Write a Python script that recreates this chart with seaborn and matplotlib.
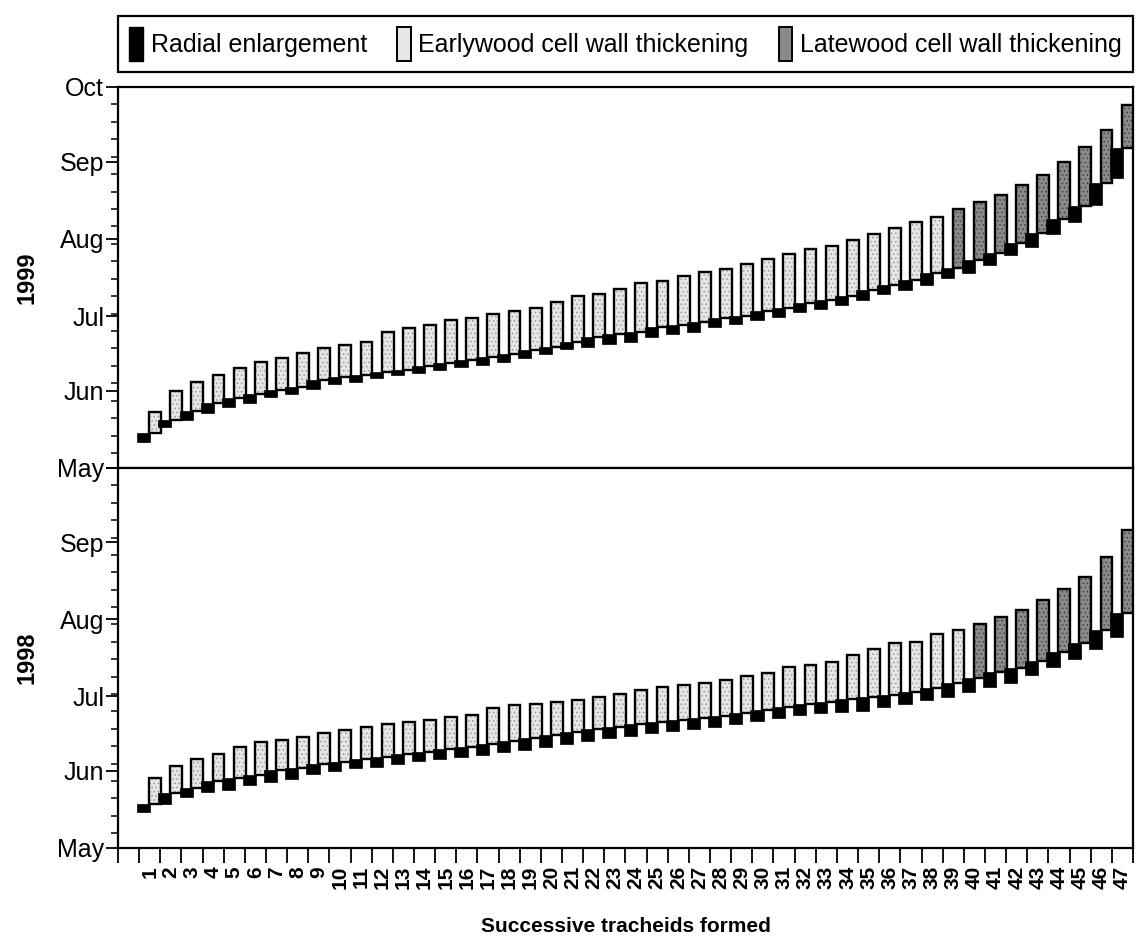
import numpy as np
import pandas as pd
import matplotlib
matplotlib.use("Agg")
import matplotlib.pyplot as plt
from matplotlib.patches import Patch
import seaborn as sns

tracheids = list(range(1, 48))

# day of year
enl_start_1999 = [131.4, 137.5, 140.3, 143.1, 145.5, 147.1, 149.5, 150.7, 152.7, 154.7,
                  155.5, 157.1, 158.3, 159.2, 160.4, 161.6, 162.4, 163.6, 165.2, 166.8,
                  168.8, 169.6, 170.8, 171.6, 173.6, 174.8, 175.6, 177.6, 178.8, 180.4,
                  181.6, 183.7, 184.9, 186.5, 188.5, 190.9, 192.5, 194.5, 197.3, 199.3,
                  202.5, 206.5, 209.8, 215.0, 219.8, 226.6, 237.5]
enl_end_1999 = [135.1, 140.3, 143.9, 147.1, 149.1, 150.7, 152.3, 153.5, 156.3, 157.5,
                158.3, 159.6, 160.4, 162.0, 163.2, 164.4, 165.6, 166.8, 168.4, 169.6,
                171.6, 173.6, 174.8, 175.6, 177.6, 178.4, 179.6, 181.2, 182.0, 184.1,
                185.3, 187.3, 188.5, 190.1, 192.5, 194.5, 196.5, 199.3, 201.3, 204.5,
                207.3, 211.4, 215.4, 221.0, 226.2, 235.5, 249.5]
thick_end_1999 = [143.5, 151.9, 155.5, 158.3, 161.2, 163.6, 165.2, 167.2, 169.2, 170.4,
                  171.6, 175.6, 177.2, 178.4, 180.4, 181.2, 182.8, 184.1, 185.3, 187.7,
                  190.1, 190.9, 192.9, 195.3, 196.1, 198.1, 199.7, 200.9, 202.9, 204.9,
                  206.9, 209.0, 210.2, 212.6, 215.0, 217.4, 219.8, 221.8, 225.0, 227.8,
                  230.6, 234.7, 238.7, 243.9, 249.9, 256.7, 266.8]
first_late_1999 = 39

enl_start_1998 = [135.5, 138.7, 141.6, 143.6, 144.4, 146.4, 147.6, 148.8, 150.8, 152.0,
                  153.3, 153.7, 154.9, 156.1, 156.9, 157.7, 158.5, 159.7, 160.5, 161.7,
                  162.9, 164.1, 165.4, 166.2, 167.4, 168.2, 169.0, 169.8, 171.0, 172.2,
                  173.4, 174.6, 175.4, 175.8, 176.2, 177.9, 179.1, 180.7, 181.9, 183.9,
                  185.9, 187.5, 190.8, 194.0, 197.2, 201.2, 206.1]
enl_end_1998 = [138.7, 143.2, 145.2, 148.0, 149.2, 150.4, 152.5, 153.3, 154.9, 155.7,
                156.9, 157.7, 158.9, 159.7, 160.9, 161.7, 162.9, 164.1, 165.4, 166.6,
                167.8, 169.0, 169.8, 171.0, 171.8, 172.6, 173.4, 174.2, 175.4, 176.6,
                177.9, 179.1, 179.9, 181.1, 181.9, 182.7, 183.9, 185.5, 187.5, 189.5,
                192.0, 193.6, 196.4, 200.0, 203.7, 208.9, 215.8]
thick_end_1998 = [149.2, 154.1, 156.9, 158.9, 161.7, 163.7, 164.5, 165.8, 167.4, 168.6,
                  169.8, 171.0, 171.8, 172.6, 173.8, 174.6, 177.5, 178.7, 179.1, 179.9,
                  180.7, 181.9, 183.1, 184.7, 185.9, 186.7, 187.5, 188.7, 190.4, 191.6,
                  194.0, 194.8, 196.0, 198.8, 201.2, 203.7, 204.1, 207.3, 208.9, 211.3,
                  214.1, 217.0, 221.0, 225.4, 230.3, 238.3, 249.2]
first_late_1998 = 40

month_names = ["May", "Jun", "Jul", "Aug", "Sep", "Oct"]
month_doy = [121, 152, 182, 213, 244, 274]

EARLY = "#e6e6e6"
EARLY_DOT = "#9a9a9a"
LATE = "#8a8a8a"
LATE_DOT = "#404040"

sns.set_style("ticks")
plt.rcParams["font.family"] = ["Liberation Sans", "DejaVu Sans"]
plt.rcParams["hatch.linewidth"] = 0.6
for key in ["text.color", "axes.labelcolor", "xtick.color", "ytick.color"]:
    plt.rcParams[key] = "black"


def make_df(start, end, thick, first_late):
    df = pd.DataFrame({"tracheid": tracheids, "start": start, "end": end, "thick": thick})
    df["wood"] = np.where(df["tracheid"] >= first_late, "late", "early")
    return df


def draw_panel(ax, df):
    x = df["tracheid"].to_numpy()
    for wood, face, dot in [("early", EARLY, EARLY_DOT), ("late", LATE, LATE_DOT)]:
        sub = df[df["wood"] == wood]
        xs = sub["tracheid"].to_numpy() + 0.25
        h = sub["thick"] - sub["end"]
        ax.bar(xs, h, bottom=sub["end"], width=0.56, color=face,
               edgecolor=dot, hatch="....", linewidth=0, zorder=2)
        ax.bar(xs, h, bottom=sub["end"], width=0.56, facecolor="none",
               edgecolor="black", linewidth=1.7, zorder=3)
    ax.bar(x - 0.28, df["end"] - df["start"], bottom=df["start"], width=0.62,
           color="black", edgecolor="black", linewidth=0.5, zorder=4)

    ax.set_xlim(-0.5, 47.5)
    ax.set_ylim(month_doy[0], month_doy[-1])
    ax.set_yticks(month_doy)
    ax.set_yticklabels(month_names, fontsize=18)
    ax.set_yticks(np.arange(month_doy[-1] - 7, month_doy[0], -7), minor=True)
    ax.tick_params(axis="y", which="major", direction="out", length=9, width=1.3, pad=1)
    ax.tick_params(axis="y", which="minor", direction="out", length=5, width=1.1)
    for s in ax.spines.values():
        s.set_linewidth(1.6)
        s.set_color("black")


fig = plt.figure(figsize=(11.39, 9.5), dpi=100)
ax_top = fig.add_axes([0.1036, 0.5074, 0.8911, 0.4011])
ax_bot = fig.add_axes([0.1036, 0.1074, 0.8911, 0.4000])

df99 = make_df(enl_start_1999, enl_end_1999, thick_end_1999, first_late_1999)
df98 = make_df(enl_start_1998, enl_end_1998, thick_end_1998, first_late_1998)
draw_panel(ax_top, df99)
draw_panel(ax_bot, df98)

ax_top.tick_params(axis="x", which="both", bottom=False, labelbottom=False)
ax_bot.set_yticklabels(month_names[:-1] + [""], fontsize=18)

# tick marks on slot boundaries, labels in slot centres
ax_bot.set_xticks(np.arange(-0.5, 48, 1))
ax_bot.set_xticklabels([])
ax_bot.tick_params(axis="x", which="major", direction="out", length=11, width=1.3)
ax_bot.set_xticks(tracheids, minor=True)
ax_bot.set_xticklabels([str(t) for t in tracheids], minor=True, rotation=90,
                       fontsize=15, fontweight="bold")
ax_bot.tick_params(axis="x", which="minor", length=0, pad=13)

ax_top.set_ylabel("1999", fontsize=17, fontweight="bold")
ax_bot.set_ylabel("1998", fontsize=17, fontweight="bold")
ax_top.yaxis.set_label_coords(-0.078, 0.5)
ax_bot.yaxis.set_label_coords(-0.078, 0.5)
ax_bot.set_xlabel("Successive tracheids formed", fontsize=15, fontweight="bold", labelpad=20)

handles = [Patch(facecolor="black", edgecolor="black"),
           Patch(facecolor=EARLY, edgecolor="black", linewidth=1.4),
           Patch(facecolor=LATE, edgecolor="black", linewidth=1.4)]
labels = ["Radial enlargement", "Earlywood cell wall thickening", "Latewood cell wall thickening"]
leg = fig.legend(handles, labels, ncol=3, loc="lower left", mode="expand",
                 bbox_to_anchor=(0.1036, 0.924, 0.8911, 0.068), fontsize=18,
                 handlelength=0.55, handleheight=1.7, handletextpad=0.3,
                 columnspacing=0.6, borderaxespad=0, borderpad=0.45,
                 fancybox=False, framealpha=1, edgecolor="black")
leg.get_frame().set_linewidth(1.6)

fig.savefig("out.png", dpi=100)
